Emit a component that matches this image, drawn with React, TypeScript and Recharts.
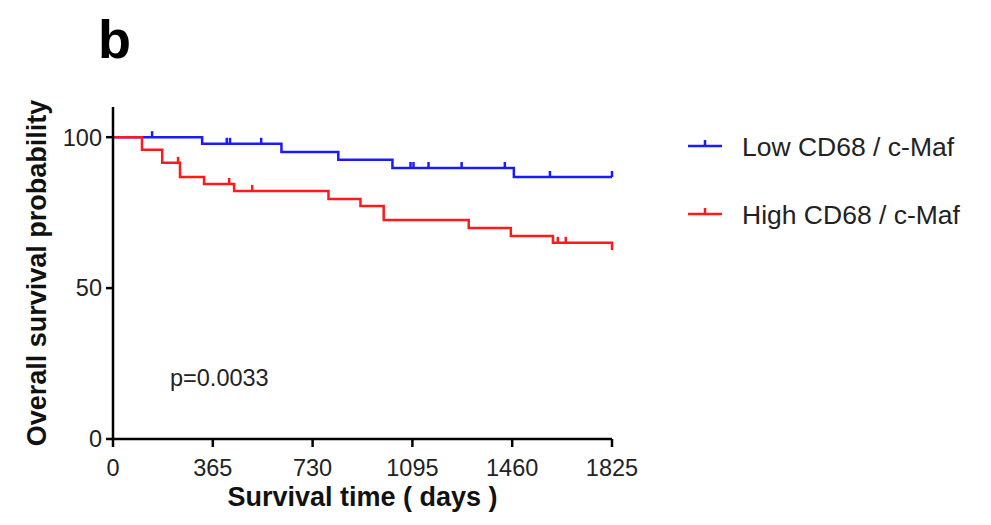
import { ComposedChart, Line, XAxis, YAxis, Label } from 'recharts'

// Kaplan-Meier steps (days, % surviving, 1 = censored)
const lowTime = [0, 143, 326, 416, 428, 542, 616, 824, 1022, 1088, 1099, 1154, 1275, 1433, 1466, 1598, 1825]
const lowSurv = [100, 100, 97.8, 97.8, 97.8, 97.8, 95.1, 92.5, 89.8, 89.8, 89.8, 89.8, 89.8, 89.8, 86.8, 86.8, 86.8]
const lowCens = [0, 1, 0, 1, 1, 1, 0, 0, 0, 1, 1, 1, 1, 1, 0, 1, 1]

const highTime = [0, 106, 180, 238, 245, 333, 425, 443, 509, 788, 905, 990, 1301, 1455, 1609, 1627, 1656, 1825]
const highSurv = [100, 95.8, 91.5, 91.5, 86.8, 84.5, 84.5, 82.2, 82.2, 79.5, 77.2, 72.6, 69.9, 67.3, 65.0, 65.0, 65.0, 62.6]
const highCens = [0, 0, 0, 1, 0, 0, 1, 0, 1, 0, 0, 0, 0, 0, 0, 1, 1, 0]

const xTicks = [0, 365, 730, 1095, 1460, 1825]
const yTicks = [0, 50, 100]

const series = [
  { name: 'Low CD68 / c-Maf', color: '#1a1aff', time: lowTime, surv: lowSurv, cens: lowCens },
  { name: 'High CD68 / c-Maf', color: '#ff1a1a', time: highTime, surv: highSurv, cens: highCens },
]

const FONT = '"Liberation Sans", Arial, Helvetica, sans-serif'

const censorDot = (color: string) => (p: any) => {
  const { cx, cy, payload, index } = p
  if (!payload || !payload.censored) return <g key={index} />
  return <line key={index} x1={cx} x2={cx} y1={cy} y2={cy - 6} stroke={color} strokeWidth={2.5} />
}

export default function App() {
  return (
    <div style={{ position: 'absolute', left: 0, top: 0, width: 991, height: 525, background: '#fff', fontFamily: FONT }}>
      <ComposedChart width={991} height={525} margin={{ top: 107, right: 379, bottom: 6, left: 0 }}>
        <XAxis type="number" dataKey="t" domain={[0, 1825]} ticks={xTicks} allowDuplicatedCategory={false}
          height={80} tickSize={8} tickMargin={12}
          axisLine={{ stroke: '#000', strokeWidth: 2.5 }} tickLine={{ stroke: '#000', strokeWidth: 2.5 }}
          tick={{ fill: '#222', fontSize: 23.5, fontFamily: FONT }}>
          <Label value="Survival time ( days )" position="insideBottom" offset={13}
            style={{ fontSize: 27, fontWeight: 700, fill: '#111', fontFamily: FONT }} />
        </XAxis>
        <YAxis type="number" domain={[0, 110]} ticks={yTicks} width={113} tickSize={7} tickMargin={4}
          axisLine={{ stroke: '#000', strokeWidth: 2.5 }} tickLine={{ stroke: '#000', strokeWidth: 2.5 }}
          tick={{ fill: '#222', fontSize: 23.5, fontFamily: FONT }}>
          <Label value="Overall survival probability" angle={-90} position="center" dx={-20}
            style={{ fontSize: 27, fontWeight: 700, fill: '#111', fontFamily: FONT, textAnchor: 'middle' }} />
        </YAxis>
        {series.map(s => (
          <Line key={s.name} name={s.name} type="stepAfter" dataKey="s"
            data={s.time.map((t, i) => ({ t, s: s.surv[i], censored: s.cens[i] === 1 }))}
            stroke={s.color} strokeWidth={2.5} dot={censorDot(s.color)} activeDot={false}
            isAnimationActive={false} />
        ))}
      </ComposedChart>
      <svg width={991} height={525} style={{ position: 'absolute', left: 0, top: 0, pointerEvents: 'none' }}>
        <text x={98} y={58} fontSize={54} fontWeight={700} fill="#000" fontFamily={FONT}>b</text>
        <text x={170} y={386} fontSize={23.5} fill="#222" fontFamily={FONT}>p=0.0033</text>
        {series.map((s, i) => {
          const y = 146 + i * 68
          return (
            <g key={s.name}>
              <line x1={688} x2={722} y1={y} y2={y} stroke={s.color} strokeWidth={2.5} />
              <line x1={705} x2={705} y1={y} y2={y - 6} stroke={s.color} strokeWidth={2.5} />
              <text x={742} y={y + 10} fontSize={26.5} fill="#222" fontFamily={FONT}>{s.name}</text>
            </g>
          )
        })}
      </svg>
    </div>
  )
}
